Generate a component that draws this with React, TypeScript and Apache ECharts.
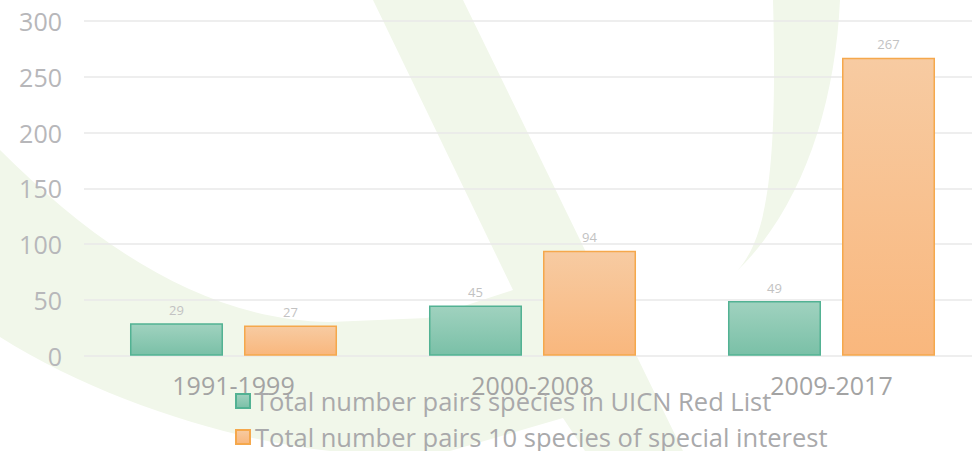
import React, { useEffect, useRef } from "react";
import * as echarts from "echarts";

const categories = ["1991-1999", "2000-2008", "2009-2017"];
const redListPairs = [29, 45, 49];
const specialInterestPairs = [27, 94, 267];
const seriesNames = [
  "Total number pairs species in UICN Red List",
  "Total number pairs 10 species of special interest",
];

const FONT = "'Open Sans', sans-serif";

const swooshD =
  "M0,150 C90,240 200,320 330,322 L427,318 L513,290 L373,0 L463,0 L683,451 L585,451 L563,418 L450,451 L330,451 C230,440 100,400 0,337 Z";
const leafD = "M773,0 L840,0 C835,110 800,210 737,271 C765,240 778,180 773,0 Z";

let registered = false;
function registerShapes() {
  if (registered) return;
  registered = true;
  echarts.graphic.registerShape("swoosh", echarts.graphic.extendPath(swooshD, {}) as any);
  echarts.graphic.registerShape("leaf", echarts.graphic.extendPath(leafD, {}) as any);
}

export default function App() {
  const ref = useRef<HTMLDivElement>(null);
  useEffect(() => {
    if (!ref.current) return;
    document.body.style.overflow = "hidden";
    registerShapes();
    const chart = echarts.init(ref.current, undefined, { renderer: "svg" });
    const green = new echarts.graphic.LinearGradient(0, 0, 0, 1, [
      { offset: 0, color: "#a0d2bf" },
      { offset: 1, color: "#7ac0a7" },
    ]);
    const orange = new echarts.graphic.LinearGradient(0, 0, 0, 1, [
      { offset: 0, color: "#f7cba2" },
      { offset: 1, color: "#f9b77d" },
    ]);
    chart.setOption({
      animation: false,
      backgroundColor: "#ffffff",
      textStyle: { fontFamily: FONT },
      graphic: [
        { type: "swoosh", x: 0, y: 0, z: -100, silent: true, style: { fill: "#f1f7ea" } },
        { type: "leaf", x: 0, y: 0, z: -100, silent: true, style: { fill: "#f1f7ea" } },
      ],
      grid: { left: 84, top: 21, right: 0, height: 334.7, containLabel: false },
      legend: {
        orient: "vertical",
        left: 230,
        top: 383,
        height: 120,
        itemWidth: 14,
        itemHeight: 14,
        itemGap: 10,
        icon: "rect",
        textStyle: { fontFamily: FONT, fontSize: 25.5, color: "#a9a9ab", lineHeight: 25 },
        data: seriesNames,
      },
      xAxis: {
        type: "category",
        data: categories,
        axisLine: { show: false },
        axisTick: { show: false },
        axisLabel: { fontFamily: FONT, fontSize: 25, color: "#a3a3a3", margin: 17 },
      },
      yAxis: {
        type: "value",
        min: 0,
        max: 300,
        interval: 50,
        axisLine: { show: false },
        axisTick: { show: false },
        axisLabel: { fontFamily: FONT, fontSize: 25, color: "#b7b7ba", margin: 22 },
        splitLine: { lineStyle: { color: "#e8e8e8", width: 1.5 } },
      },
      series: [
        {
          name: seriesNames[0],
          type: "bar",
          data: redListPairs,
          barWidth: 93,
          barGap: "22.6%",
          itemStyle: { color: green, borderColor: "#52b293", borderWidth: 1.5 },
          label: { show: true, position: "top", distance: 7, fontSize: 13, color: "#c2c2c2", fontFamily: FONT },
        },
        {
          name: seriesNames[1],
          type: "bar",
          data: specialInterestPairs,
          barWidth: 93,
          itemStyle: { color: orange, borderColor: "#f5a84c", borderWidth: 1.5 },
          label: { show: true, position: "top", distance: 7, fontSize: 13, color: "#c2c2c2", fontFamily: FONT },
        },
      ],
    });
    return () => chart.dispose();
  }, []);
  return (
    <div
      ref={ref}
      style={{ position: "fixed", left: 0, top: 0, width: 981, height: 451 }}
    />
  );
}
